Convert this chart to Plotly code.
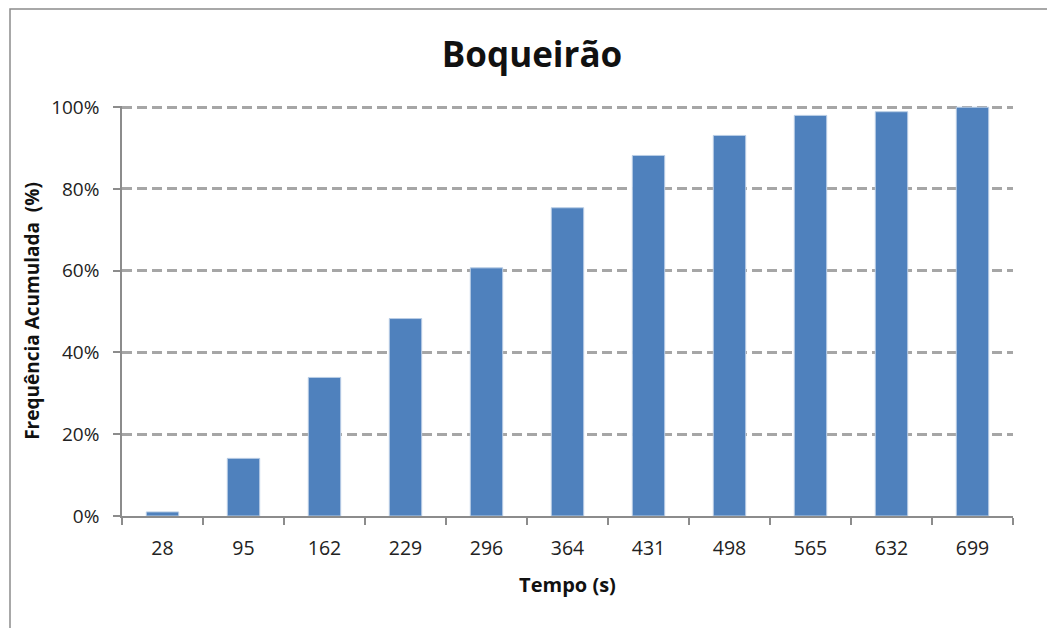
import plotly.graph_objects as go

categories = ["28", "95", "162", "229", "296", "364", "431", "498", "565", "632", "699"]
freq_acum = [0.01, 0.141, 0.339, 0.483, 0.607, 0.754, 0.882, 0.931, 0.98, 0.989, 1.0]
y_ticks = [0, 0.2, 0.4, 0.6, 0.8, 1.0]
y_tick_labels = ["0%", "20%", "40%", "60%", "80%", "100%"]

OFF = 8  # page body margin
W, H = 1055 - OFF, 628 - OFF
L, T = 122 - OFF, 106 - OFF
R = W - (1013 - OFF)
B = H - (516 - OFF)
pw, ph = W - L - R, H - T - B

def px(x):
    return (x - OFF - L) / pw

def py(y):
    return (H - B - (y - OFF)) / ph

fig = go.Figure(go.Bar(
    x=categories, y=freq_acum,
    marker=dict(color="#4F81BD", line=dict(color="#B9CDE5", width=1)),
    width=0.4,
))

fig.update_layout(
    width=W, height=H,
    margin=dict(l=L, r=R, t=T, b=B),
    paper_bgcolor="white", plot_bgcolor="white",
    showlegend=False,
    font=dict(family="Open Sans, Noto Sans, sans-serif", color="#222"),
    title=dict(text="<b>Boqueirão</b>", x=px(532), xref="paper", xanchor="center",
               y=1 - (55 - OFF) / H, yanchor="middle",
               font=dict(size=35, color="#111")),
    xaxis=dict(
        type="category",
        showline=True, linecolor="#8C8C8C", linewidth=1.5,
        ticks="outside", ticklen=7, tickcolor="#8C8C8C", tickwidth=1.5,
        tickson="boundaries",
        tickfont=dict(size=19.5, color="#222"),
        ticklabelstandoff=14,
        showgrid=False,
        title=dict(text="<b>Tempo (s)</b>", font=dict(size=20, color="#111"), standoff=18),
    ),
    yaxis=dict(
        range=[0, 1.003], tickvals=y_ticks, ticktext=y_tick_labels,
        showline=True, linecolor="#8C8C8C", linewidth=1.5,
        ticks="outside", ticklen=7, tickcolor="#8C8C8C", tickwidth=1.5,
        tickfont=dict(size=19, color="#222"),
        ticklabelstandoff=10,
        showgrid=True, gridcolor="#A6A6A6", gridwidth=2.5, griddash="10px,5px",
        zeroline=False,
        title=dict(text="<b>Frequência Acumulada  (%)</b>", font=dict(size=19, color="#111"), standoff=6),
    ),
    shapes=[dict(type="rect", xref="paper", yref="paper",
                 x0=px(10), x1=px(1070), y0=py(640), y1=py(9),
                 line=dict(color="#8C8C8C", width=1.5), fillcolor="rgba(0,0,0,0)", layer="below")],
)

fig.write_html("out.html")
